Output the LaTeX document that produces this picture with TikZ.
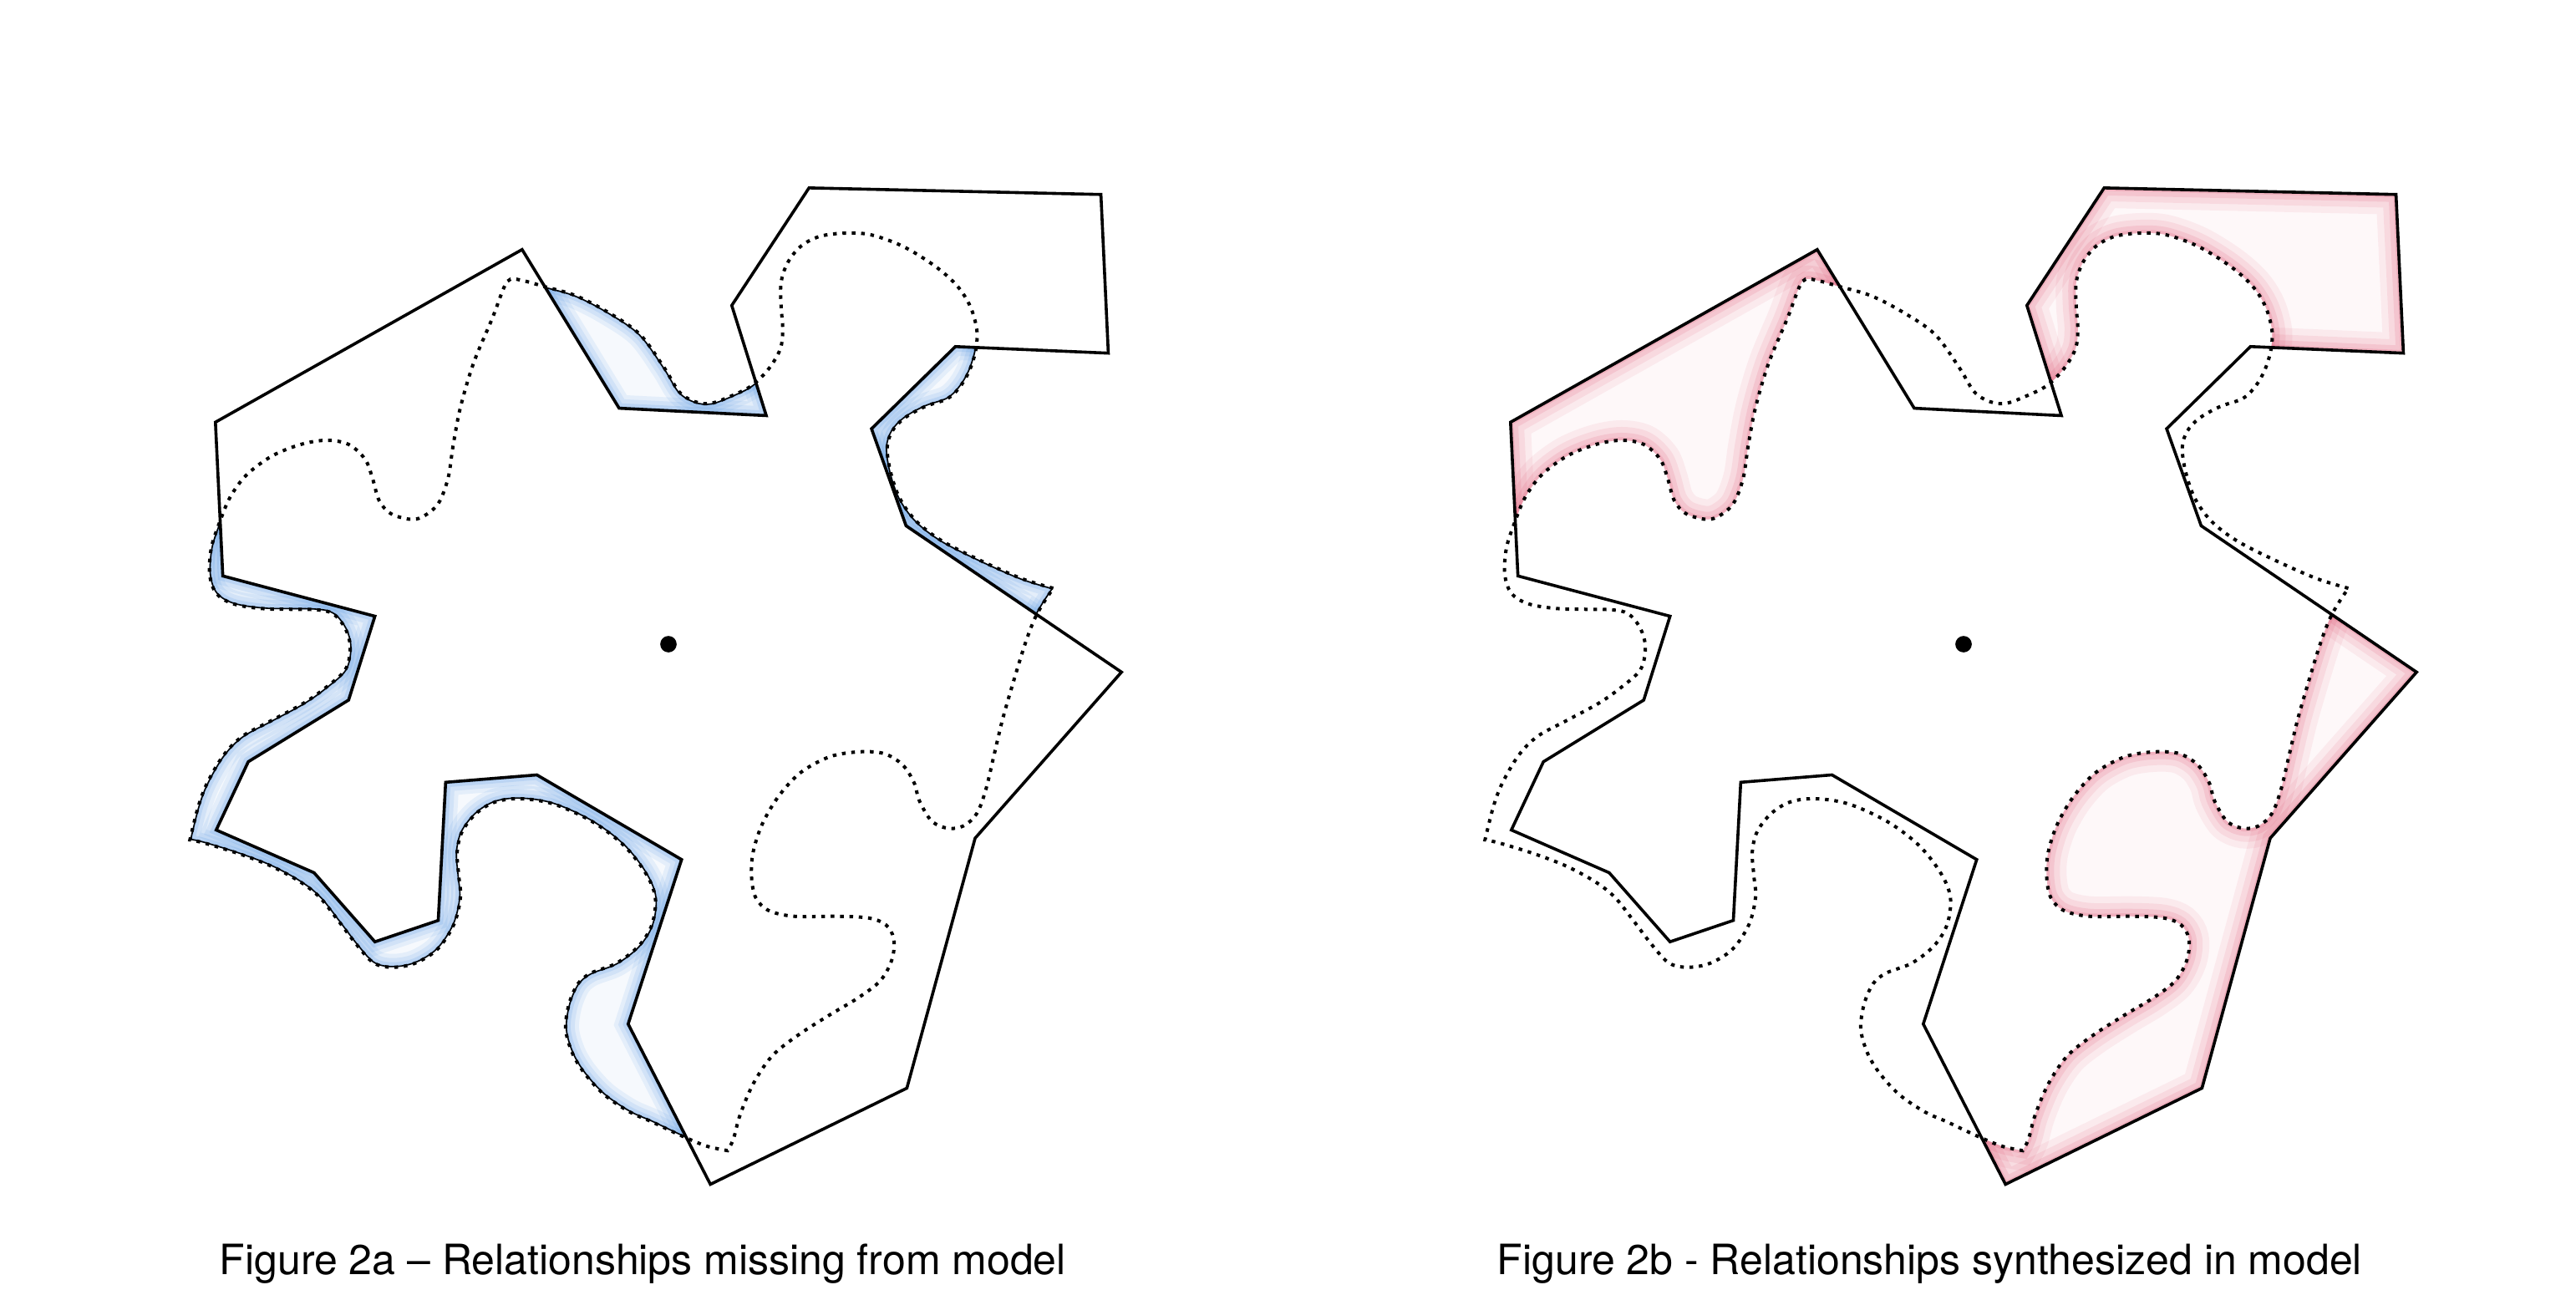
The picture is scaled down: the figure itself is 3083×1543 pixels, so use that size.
\documentclass[tikz,border=0pt]{standalone}
\usepackage{fontspec}
\setmainfont{TeX Gyre Heros}
\definecolor{missblue}{RGB}{74,144,226}
\definecolor{synthpink}{RGB}{222,70,104}
\tikzset{
  modelline/.style={line width=0.9pt, line join=miter},
  truthline/.style={line width=1pt, dash pattern=on 1.1pt off 1.7pt},
  rimline/.style={line width=0.8pt},
  figcaption/.style={anchor=base west, inner sep=0pt, font=\fontsize{12.5}{15}\selectfont},
}
% model outline (relative to the centre dot)
\newcommand{\modelpoly}{(-178,-480) -- (-60,-287) -- (119,-278) -- (77,-412) -- (171,-555) -- (526,-547) -- (535,-354) -- (349,-362) -- (247,-262) -- (289,-144) -- (551,34) -- (373,236) -- (290,540) -- (51,657) -- (-49,462) -- (16,262) -- (-160,159) -- (-271,168) -- (-280,336) -- (-357,362) -- (-431,278) -- (-550,226) -- (-511,143) -- (-389,68) -- (-357,-34) -- (-542,-83) -- (-551,-270) -- cycle}
% true relationship curve
\newcommand{\truecurve}{plot[smooth, tension=0.55] coordinates {(468,-68) (429,-80) (379,-102) (332,-126) (301,-150) (281,-178) (270,-210) (266,-239) (272,-259) (287,-275) (312,-289) (340,-299) (356,-315) (367,-335) (374,-359) (375,-383) (367,-411) (351,-436) (324,-460) (285,-484) (246,-498) (215,-500) (184,-496) (161,-484) (145,-464) (137,-440) (137,-411) (139,-383) (136,-359) (122,-335) (102,-315) (79,-303) (52,-293) (32,-295) (13,-307) (-5,-336) (-35,-377) (-74,-404) (-113,-424) (-151,-435) (-176,-442) (-192,-444) (-200,-434) (-214,-397) (-237,-342) (-253,-288) (-262,-241) (-268,-202) (-280,-171) (-299,-155) (-315,-152) (-338,-159) (-352,-175) (-360,-202) (-369,-225) (-389,-243) (-416,-248) (-447,-243) (-482,-229) (-513,-206) (-533,-179) (-546,-148) (-556,-117) (-558,-85) (-550,-62) (-529,-49) (-490,-43) (-431,-42) (-408,-37) (-393,-19) (-387,4) (-393,31) (-417,53) (-444,72) (-483,93) (-518,112) (-541,135) (-561,169) (-572,198) (-582,238)}
  -- plot[smooth, tension=0.55] coordinates {(-582,238) (-564,242) (-522,255) (-483,270) (-448,289) (-424,308) (-401,337) (-378,367) (-358,388) (-335,393) (-308,388) (-281,371) (-261,341) (-253,308) (-255,282) (-257,253) (-251,228) (-234,206) (-211,192) (-181,188) (-141,194) (-94,215) (-55,244) (-28,278) (-16,308) (-20,341) (-36,367) (-63,388) (-94,400) (-110,413) (-121,438) (-125,468) (-117,497) (-102,522) (-78,548) (-47,569) (-20,581) (3,592) (25,602) (48,611) (72,616)}
  -- plot[smooth, tension=0.55] coordinates {(72,616) (79,602) (87,573) (103,535) (126,501) (157,476) (196,451) (231,430) (258,409) (272,383) (274,358) (264,341) (243,333) (204,331) (153,331) (122,324) (106,308) (101,282) (103,253) (114,219) (134,185) (161,156) (196,137) (231,131) (262,133) (285,147) (299,169) (305,190) (320,215) (340,224) (359,221) (375,206) (386,177) (396,135) (406,93) (418,51) (433,2) (445,-30) (456,-50) (468,-68)}
  -- cycle}
\begin{document}
\begin{tikzpicture}[x=0.25pt,y=0.25pt,yscale=-1,xscale=1]
    \fill[white] (0,0) rectangle (3083,1543);
    \useasboundingbox (0,0) rectangle (3083,1543);
    % Figure 2a
    \begin{scope}[shift={(800,771)}, scale=0.984]
      \begin{scope}[even odd rule]
        \clip \truecurve;
        \clip (-1000,-1000) rectangle (1000,1000) \modelpoly;
        \fill[missblue!5] (-1000,-1000) rectangle (1000,1000);
        \foreach \w/\o in {8pt/0.1, 5.5pt/0.12, 3pt/0.16, 1.2pt/0.2} {
          \draw[missblue, opacity=\o, line width=\w] \truecurve;
          \draw[missblue, opacity=\o, line width=\w] \modelpoly;
        }
        \draw[rimline] \truecurve;
      \end{scope}
      \draw[modelline] \modelpoly;
      \draw[truthline] \truecurve;
      \fill (0,0) circle (10);
    \end{scope}
    % Figure 2b
    \begin{scope}[shift={(2350,771)}, scale=0.984]
      \begin{scope}[even odd rule]
        \clip \modelpoly;
        \clip (-1000,-1000) rectangle (1000,1000) \truecurve;
        \fill[synthpink!4] (-1000,-1000) rectangle (1000,1000);
        \foreach \w/\o in {12pt/0.08, 8pt/0.1, 4.5pt/0.13, 1.8pt/0.16} {
          \draw[synthpink, opacity=\o, line width=\w] \truecurve;
          \draw[synthpink, opacity=\o, line width=\w] \modelpoly;
        }
      \end{scope}
      \draw[modelline] \modelpoly;
      \draw[truthline] \truecurve;
      \fill (0,0) circle (10);
    \end{scope}
    % Text Node
    \node[figcaption] (capA) at (262,1525) {Figure 2a – Relationships missing from model};
    % Text Node
    \node[figcaption] (capB) at (1791,1525) {Figure 2b - Relationships synthesized in model};
\end{tikzpicture}
\end{document}
